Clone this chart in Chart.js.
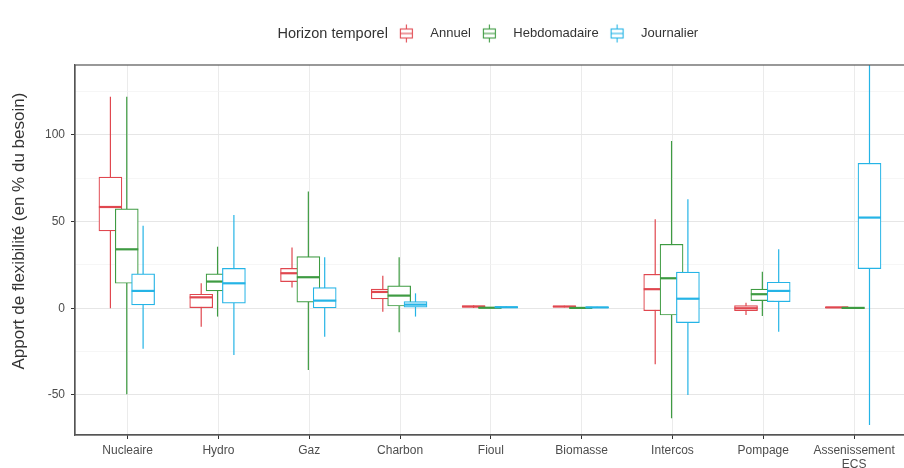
<!DOCTYPE html>
<html>
<head>
<meta charset="utf-8">
<script src="https://cdn.jsdelivr.net/npm/chart.js"></script>
<style>
  html, body { margin: 0; padding: 0; background: #fff; }
  canvas { display: block; }
</style>
</head>
<body>
<canvas id="boxChart" width="904" height="468"></canvas>
<script>
// filieres on the x axis
const categories = ['Nucleaire', 'Hydro', 'Gaz', 'Charbon', 'Fioul', 'Biomasse', 'Intercos', 'Pompage', ['Assenissement', 'ECS']];
const horizons = ['Annuel', 'Hebdomadaire', 'Journalier'];
const yTicks = [-50, -25, 0, 25, 50, 75, 100, 125];

// one row per filiere: [min, q1, median, q3, max]
const annuel = [
  [0, 44.6, 58.4, 75.7, 122],
  [-10.6, 0.3, 6.3, 8.1, 14.4],
  [12, 15.4, 20.2, 23, 35],
  [-2, 5.4, 9.4, 11, 18.8],
  [0.2, 0.6, 1, 1.4, 1.8],
  [0.5, 0.8, 1, 1.2, 1.5],
  [-32.3, -1.4, 11, 19.6, 51.3],
  [-3.9, -1.4, 0, 1.5, 3.2],
  [0.3, 0.4, 0.5, 0.6, 0.7]
];
const hebdomadaire = [
  [-49.6, 14.4, 34, 57.3, 122],
  [-4.8, 10, 15.4, 19.8, 35.5],
  [-35.6, 3.5, 17.9, 29.8, 67.3],
  [-13.8, 1.3, 7.3, 12.9, 29.4],
  [0, 0.1, 0.3, 0.5, 0.6],
  [0, 0.1, 0.2, 0.3, 0.4],
  [-63.4, -3.9, 17.3, 36.9, 96.5],
  [-4.4, 4.4, 8.1, 11, 21.1],
  [0, 0.1, 0.2, 0.3, 0.4]
];
const journalier = [
  [-23.3, 1.9, 10, 19.8, 47.6],
  [-26.9, 2.9, 14.4, 23, 53.8],
  [-16.4, 0, 4.4, 11.9, 29.4],
  [-4.8, 0.6, 2.1, 3.8, 8.6],
  [0.2, 0.4, 0.6, 0.8, 1],
  [0.1, 0.3, 0.5, 0.7, 0.9],
  [-50, -8.3, 5.5, 20.9, 62.9],
  [-13.5, 3.8, 10, 15, 34],
  [-67.3, 22.9, 52.3, 83.6, 145]
];

const series = [annuel, hebdomadaire, journalier];
const colors = ['#E0474F', '#3E9B42', '#25B4E6'];
const dodge = [-0.19, -0.01, 0.17];
const FONT = '"Liberation Sans", Arial, sans-serif';
const LEGEND_TITLE = 'Horizon temporel';

function legendGlyph(color) {
  const c = document.createElement('canvas');
  c.width = 26; c.height = 20;
  const g = c.getContext('2d');
  g.strokeStyle = color;
  g.lineWidth = 1.1;
  g.beginPath(); g.moveTo(8.5, 1); g.lineTo(8.5, 19); g.stroke();
  g.fillStyle = '#fff';
  g.fillRect(2.5, 5.5, 12, 9);
  g.strokeRect(2.5, 5.5, 12, 9);
  g.beginPath(); g.moveTo(2.5, 10); g.lineTo(14.5, 10); g.stroke();
  return c;
}
const blankGlyph = document.createElement('canvas');
blankGlyph.width = 1; blankGlyph.height = 1;

// whiskers under each group's boxes, medians on top, then the panel frame
const boxParts = {
  id: 'boxParts',
  beforeDatasetDraw(chart, args) {
    const { ctx, chartArea: a } = chart;
    const y = chart.scales.y;
    const stats = series[args.index];
    ctx.save();
    ctx.beginPath(); ctx.rect(a.left, a.top, a.right - a.left, a.bottom - a.top); ctx.clip();
    ctx.strokeStyle = colors[args.index];
    ctx.lineWidth = 1.2;
    args.meta.data.forEach((el, i) => {
      ctx.beginPath();
      ctx.moveTo(el.x, y.getPixelForValue(stats[i][0]));
      ctx.lineTo(el.x, y.getPixelForValue(stats[i][4]));
      ctx.stroke();
    });
    ctx.restore();
  },
  afterDatasetDraw(chart, args) {
    const { ctx } = chart;
    const y = chart.scales.y;
    const stats = series[args.index];
    ctx.save();
    ctx.strokeStyle = colors[args.index];
    ctx.lineWidth = 2.2;
    args.meta.data.forEach((el, i) => {
      const py = y.getPixelForValue(stats[i][2]);
      ctx.beginPath();
      ctx.moveTo(el.x - el.width / 2, py);
      ctx.lineTo(el.x + el.width / 2, py);
      ctx.stroke();
    });
    ctx.restore();
  },
  afterDraw(chart) {
    const { ctx, chartArea: a } = chart;
    ctx.save();
    ctx.strokeStyle = '#555';
    ctx.lineWidth = 1.2;
    ctx.strokeRect(a.left, a.top, a.right - a.left + 10, a.bottom - a.top);
    // legend title, a little larger than the keys, right-aligned in the first slot
    const hb = chart.legend.legendHitBoxes[0];
    if (hb) {
      ctx.fillStyle = '#333';
      ctx.font = '14.5px ' + FONT;
      ctx.textAlign = 'right';
      ctx.textBaseline = 'middle';
      ctx.fillText(LEGEND_TITLE, hb.left + hb.width, hb.top + hb.height / 2);
    }
    ctx.restore();
  }
};

new Chart(document.getElementById('boxChart'), {
  type: 'bar',
  data: {
    datasets: series.map((stats, d) => ({
      label: horizons[d],
      data: stats.map((s, i) => ({ x: i + dodge[d], y: [s[1], s[3]] })),
      backgroundColor: '#fff',
      borderColor: colors[d],
      borderWidth: 1.2,
      borderSkipped: false,
      grouped: false,
      barThickness: 23,
      order: 2 - d
    }))
  },
  options: {
    responsive: false,
    animation: false,
    layout: { padding: { top: 17, right: 0, bottom: 0, left: 0 } },
    plugins: {
      tooltip: { enabled: false },
      // empty spacer between the legend and the panel
      subtitle: { display: true, text: '', weight: 500, font: { size: 10 }, padding: { top: 3, bottom: 0 } },
      legend: {
        position: 'top',
        labels: {
          usePointStyle: true,
          pointStyleWidth: 26,
          padding: 10,
          color: '#333',
          font: { family: FONT, size: 13 },
          generateLabels() {
            // first slot is reserved for the title, its own text is left transparent
            const items = [{ text: ' '.repeat(14) + LEGEND_TITLE, pointStyle: blankGlyph, fontColor: 'rgba(0,0,0,0)', fillStyle: 'transparent', strokeStyle: 'transparent', lineWidth: 0, hidden: false }];
            horizons.forEach((h, d) => items.push({
              text: h, pointStyle: legendGlyph(colors[d]), fontColor: '#333', fillStyle: 'transparent', strokeStyle: 'transparent', lineWidth: 0, hidden: false, datasetIndex: d
            }));
            return items;
          }
        }
      }
    },
    scales: {
      x: {
        type: 'linear',
        offset: false,
        min: -0.58,
        max: 8.55,
        afterBuildTicks: (scale) => { scale.ticks = categories.map((c, i) => ({ value: i })); },
        afterFit: (scale) => { scale.height = 33; },
        grid: { offset: false, color: '#EBEBEB', lineWidth: 1, tickColor: '#333', tickLength: 4 },
        border: { display: true, color: '#555', width: 1.2 },
        ticks: {
          autoSkip: false, maxRotation: 0, minRotation: 0, padding: 4,
          color: '#4D4D4D', font: { family: FONT, size: 12 },
          callback: (v) => categories[v]
        }
      },
      y: {
        min: -73.1,
        max: 140.3,
        afterBuildTicks: (scale) => { scale.ticks = yTicks.map(v => ({ value: v })); },
        afterFit: (scale) => { scale.width = 75; },
        grid: {
          color: (c) => (c.tick && c.tick.value % 50 === 0) ? '#E6E6E6' : '#F2F2F2',
          lineWidth: (c) => (c.tick && c.tick.value % 50 === 0) ? 1 : 0.7,
          tickColor: (c) => (c.tick && c.tick.value % 50 === 0) ? '#333' : 'rgba(0,0,0,0)',
          tickLength: 4
        },
        border: { display: true, color: '#555', width: 1.2 },
        ticks: {
          padding: 6, color: '#4D4D4D', font: { family: FONT, size: 12 },
          callback: (v) => v % 50 === 0 ? String(v) : ''
        },
        title: {
          display: true,
          text: ' '.repeat(8) + 'Apport de flexibilité (en % du besoin)',
          color: '#333',
          font: { family: FONT, size: 17 },
          padding: { top: 9, bottom: 0 }
        }
      }
    }
  },
  plugins: [boxParts]
});
</script>
</body>
</html>
